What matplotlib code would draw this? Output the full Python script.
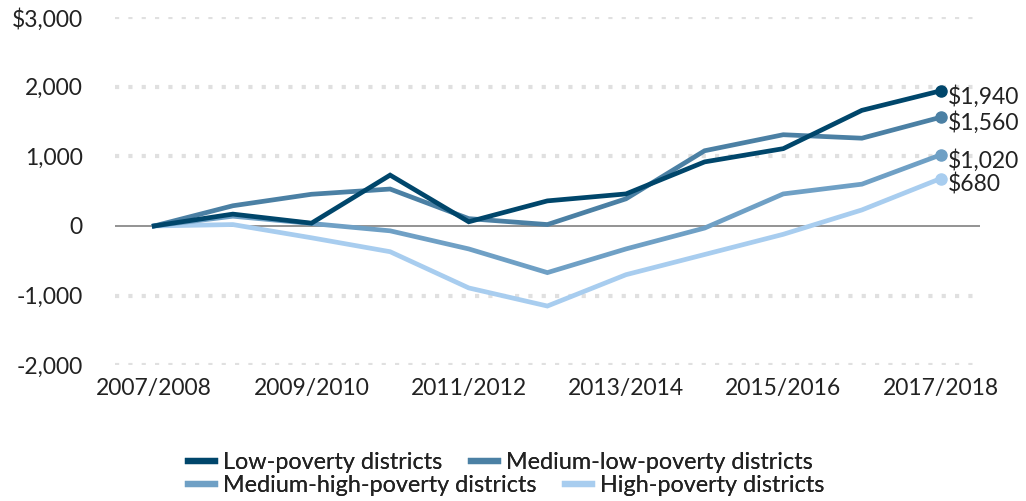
import matplotlib.pyplot as plt
import numpy as np

plt.rcParams['font.family'] = ['Lato', 'DejaVu Sans']

# School years (x axis)
years = ['2007/2008', '2008/2009', '2009/2010', '2010/2011', '2011/2012', '2012/2013',
         '2013/2014', '2014/2015', '2015/2016', '2016/2017', '2017/2018']

# Change in spending per student since 2007/2008, by district poverty level
low_pov = [0, 170, 40, 730, 60, 360, 460, 920, 1110, 1660, 1940]
med_low_pov = [0, 290, 455, 530, 105, 20, 390, 1080, 1310, 1260, 1560]
med_high_pov = [0, 140, 35, -70, -330, -670, -330, -30, 460, 600, 1020]
high_pov = [0, 20, -170, -370, -890, -1150, -700, -410, -120, 230, 680]

series_names = ['Low-poverty districts', 'Medium-low-poverty districts',
                'Medium-high-poverty districts', 'High-poverty districts']
end_labels = ['$1,940', '$1,560', '$1,020', '$680']
colors = ['#00466b', '#4b80a4', '#6fa0c5', '#a8cdef']

fig = plt.figure(figsize=(10.26, 5.01), dpi=100)
ax = fig.add_axes([0.112, 0.271, 0.843, 0.695])

x = np.arange(len(years))

# gridlines
for yv in [-2000, -1000, 1000, 2000, 3000]:
    ax.axhline(yv, color='#e0e0e0', lw=3, ls=(0, (1, 2.2)), zorder=0)
ax.axhline(0, color='#8a8a8a', lw=1.3, zorder=1)

all_series = [low_pov, med_low_pov, med_high_pov, high_pov]
handles = {}
# draw lightest first so darker lines sit on top
for vals, name, col, lab in reversed(list(zip(all_series, series_names, colors, end_labels))):
    ln, = ax.plot(x, vals, color=col, lw=3.4, label=name, solid_joinstyle='miter', zorder=3)
    handles[name] = ln
    ax.plot(x[-1], vals[-1], 'o', color=col, ms=8, zorder=4)
    ax.annotate(lab, (x[-1], vals[-1]), xytext=(5, -4), textcoords='offset points',
                ha='left', va='center', fontsize=16.5, color='#222222')

ax.set_xlim(-0.5, 10.5)
ax.set_ylim(-2000, 3000)
ax.set_xticks(x[::2])
ax.set_xticklabels(years[::2])
ax.set_yticks([-2000, -1000, 0, 1000, 2000, 3000])
ax.set_yticklabels(['-2,000', '-1,000', '0', '1,000', '2,000', '$3,000'])
ax.tick_params(axis='y', length=0, pad=23, labelsize=16.5, labelcolor='#222222')
ax.tick_params(axis='x', length=0, pad=9, labelsize=16.5, labelcolor='#222222')
for s in ax.spines.values():
    s.set_visible(False)

# legend laid out as two flowing rows
rows = [(series_names[0], series_names[1], 0.076), (series_names[2], series_names[3], 0.030)]
for a, b, yy in rows:
    leg = fig.legend([handles[a], handles[b]], [a, b], ncol=2,
                     loc='center left', bbox_to_anchor=(0.183, yy), frameon=False,
                     fontsize=16.8, handlelength=1.15, handletextpad=0.35,
                     columnspacing=1.25, borderpad=0, borderaxespad=0)
    for t in leg.get_texts():
        t.set_color('#222222')
    for h in leg.legend_handles:
        h.set_linewidth(4.5)
    fig.add_artist(leg)

fig.savefig('out.png', dpi=100)
